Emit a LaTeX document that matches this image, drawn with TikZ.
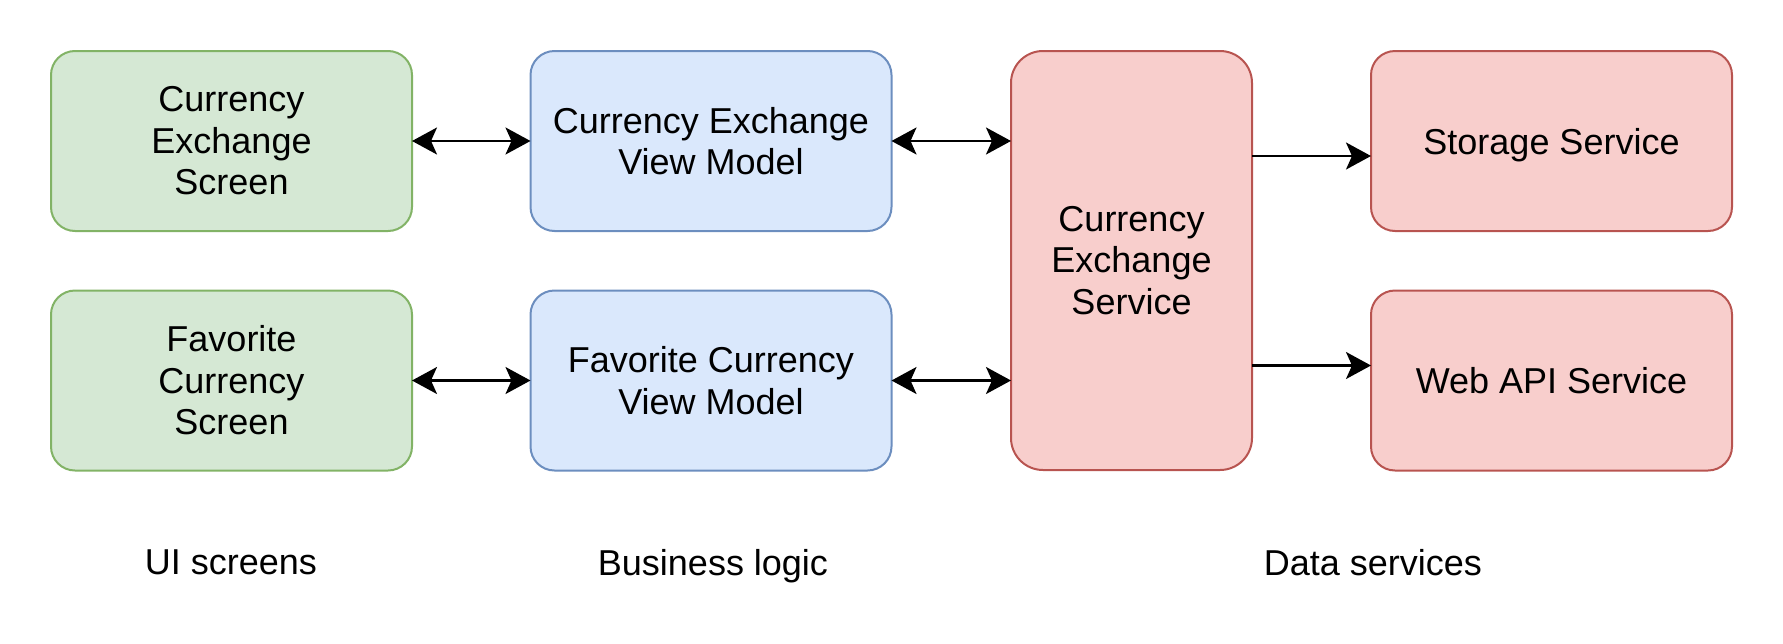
\documentclass[tikz,border=0pt]{standalone}
\usepackage{fontspec}
\setmainfont{Liberation Sans}
\usetikzlibrary{arrows.meta,calc}
\definecolor{gfill}{HTML}{D5E8D4}
\definecolor{gdraw}{HTML}{82B366}
\definecolor{bfill}{HTML}{DAE8FC}
\definecolor{bdraw}{HTML}{6C8EBF}
\definecolor{rfill}{HTML}{F8CECC}
\definecolor{rdraw}{HTML}{B85450}
\tikzset{
  box/.style={rectangle, rounded corners=12pt, line width=1pt, minimum width=180.5pt, minimum height=90pt,
    inner sep=0pt, outer sep=0pt, align=center, font=\fontsize{18}{20.7}\selectfont},
  gbox/.style={box, fill=gfill, draw=gdraw},
  bbox/.style={box, fill=bfill, draw=bdraw},
  rbox/.style={box, fill=rfill, draw=rdraw},
  conn/.style={line width=1.1pt, -{Stealth[length=12.5pt,width=13.5pt,inset=3pt]}},
  biconn/.style={line width=1.1pt, {Stealth[length=12.5pt,width=13.5pt,inset=3pt]}-{Stealth[length=12.5pt,width=13.5pt,inset=3pt]}},
  lbl/.style={font=\fontsize{18}{20.7}\selectfont, inner sep=0pt, text depth=0pt}
}
\begin{document}
\begin{tikzpicture}[x=0.5pt,y=-0.5pt]
\useasboundingbox (0,0) rectangle (1783,643);
\node[gbox] (g1) at (231.5,141) {Currency\\Exchange\\Screen};
\node[gbox] (g2) at (231.5,380.5) {Favorite\\Currency\\Screen};
\node[bbox] (b1) at (711,141) {Currency Exchange\\View Model};
\node[bbox] (b2) at (711,380.5) {Favorite Currency\\View Model};
\node[rbox, rounded corners=16pt, minimum width=120.5pt, minimum height=209.5pt] (cs) at (1131.5,260.5) {Currency\\Exchange\\Service};
\node[rbox, text depth=0pt] (ss) at (1551.5,141) {Storage Service};
\node[rbox, text depth=0pt] (ws) at (1551.5,380.5) {Web API Service};
\draw[biconn] (g1.east) -- (b1.west);
\draw[biconn] (g2.east) -- (b2.west);
\draw[biconn] (b1.east) -- (b1.east -| cs.west);
\draw[biconn] (b2.east) -- (b2.east -| cs.west);
\coordinate (s1) at ([yshift=-7.5pt]ss.west);
\coordinate (w1) at ([yshift=7.5pt]ws.west);
\draw[conn] (s1 -| cs.east) -- (s1);
\draw[conn] (w1 -| cs.east) -- (w1);
\node[lbl] (l1) at (231,562) {UI screens};
\node[lbl] (l2) at (713,562) {Business logic};
\node[lbl] (l3) at (1373,562) {Data services};
\end{tikzpicture}
\end{document}
